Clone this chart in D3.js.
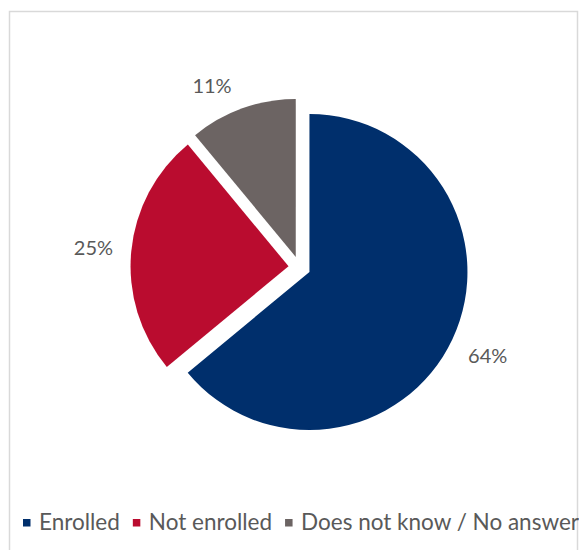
<!DOCTYPE html>
<html>
<head>
<meta charset="utf-8">
<script src="https://cdn.jsdelivr.net/npm/d3@7"></script>
<style>
  html, body { margin: 0; padding: 0; background: #fff; }
  svg { display: block; }
  text { font-family: Lato, "Open Sans", sans-serif; fill: #595959; }
</style>
</head>
<body>
<svg id="chart" width="579" height="550"></svg>
<script>
// Enrollment status shares (percent)
const categories = ["Enrolled", "Not enrolled", "Does not know / No answer"];
const values = [64, 25, 11];
const labels = ["64%", "25%", "11%"];
const colors = ["#002F6C", "#BA0C2F", "#6C6463"];

const svg = d3.select("#chart");

// light frame around the chart area (bottom runs past the page)
svg.append("rect")
  .attr("x", 9.5).attr("y", 11.5)
  .attr("width", 568).attr("height", 600)
  .attr("fill", "#fff")
  .attr("stroke", "#d9d9d9")
  .attr("stroke-width", 1.5);

const cx = 299.5, cy = 267.3;
const radius = 158;
const explode = 11;

const pie = d3.pie().sort(null).value(d => d);
const arcs = pie(values);
const arc = d3.arc().innerRadius(0).outerRadius(radius);

const g = svg.append("g").attr("transform", `translate(${cx},${cy})`);

// each slice pulled outward along its bisector
g.selectAll("path.slice")
  .data(arcs)
  .join("path")
  .attr("class", "slice")
  .attr("d", arc)
  .attr("fill", (d, i) => colors[i])
  .attr("transform", d => {
    const m = (d.startAngle + d.endAngle) / 2;
    return `translate(${explode * Math.sin(m)},${-explode * Math.cos(m)})`;
  });

// percentage labels outside each slice
const labelRadius = [208, 207, 201];
const labelShift = [0, 0, -6 * Math.PI / 180];
g.selectAll("text.pct")
  .data(arcs)
  .join("text")
  .attr("class", "pct")
  .attr("x", (d, i) => {
    const m = (d.startAngle + d.endAngle) / 2 + labelShift[i];
    return labelRadius[i] * Math.sin(m);
  })
  .attr("y", (d, i) => {
    const m = (d.startAngle + d.endAngle) / 2 + labelShift[i];
    return -labelRadius[i] * Math.cos(m);
  })
  .attr("dy", "0.35em")
  .attr("text-anchor", "middle")
  .attr("font-size", 20)
  .text((d, i) => labels[i]);

// legend along the bottom
const legend = svg.append("g").attr("transform", "translate(23,530)");
let lx = 0;
categories.forEach((c, i) => {
  legend.append("rect")
    .attr("x", lx).attr("y", -11)
    .attr("width", 7.5).attr("height", 7.5)
    .attr("fill", colors[i]);
  const t = legend.append("text")
    .attr("x", lx + 16).attr("y", 0)
    .attr("font-size", 22.5)
    .text(c);
  lx += 16 + t.node().getComputedTextLength() + 13;
});
</script>
</body>
</html>
